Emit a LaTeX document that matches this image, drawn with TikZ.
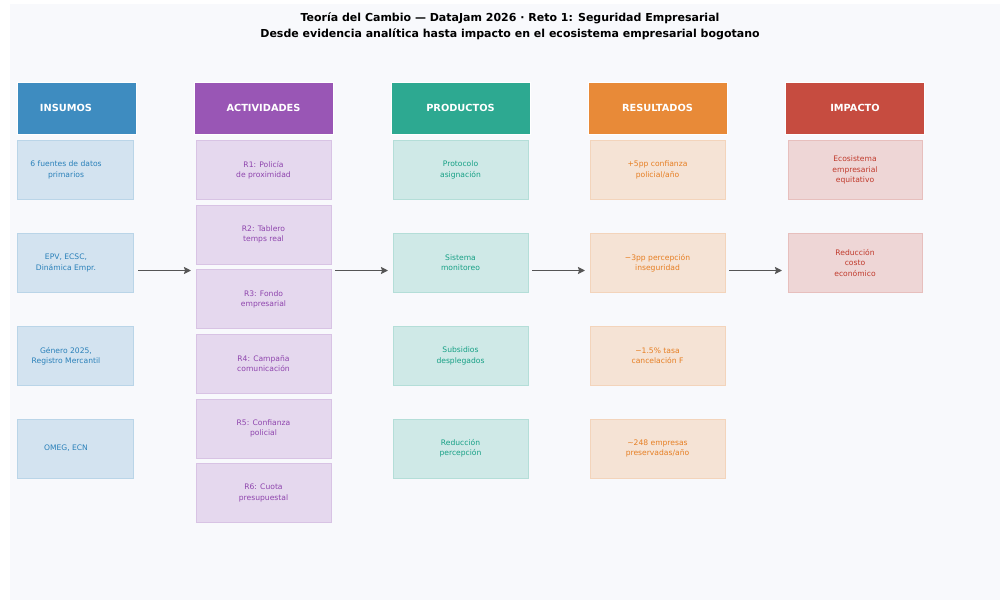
\documentclass[tikz,border=0pt]{standalone}
\usepackage{fontspec}
\setmainfont{DejaVu Sans}
\usetikzlibrary{arrows.meta}
\definecolor{panel}{HTML}{F8F9FC}
\definecolor{cIns}{HTML}{2980B9}
\definecolor{cAct}{HTML}{8E44AD}
\definecolor{cPro}{HTML}{16A085}
\definecolor{cRes}{HTML}{E67E22}
\definecolor{cImp}{HTML}{C0392B}
\definecolor{arrowgray}{HTML}{555555}
\tikzset{
  hdrfont/.style={font=\fontsize{9.8}{11}\selectfont\bfseries},
  hdr/.style={draw=white, line width=0.6pt, fill=#1!90!panel, text=white,
    hdrfont, minimum height=52pt, inner sep=0pt},
  boxfont/.style={font=\fontsize{7.6}{10.3}\selectfont},
  cbox/.style={draw=#1!30!panel, line width=0.7pt, fill=#1!18!panel, text=#1,
    boxfont, align=center, minimum height=59pt, inner sep=0pt},
  flow/.style={draw=arrowgray, line width=1.8pt, -{Stealth[length=7pt,width=7pt,inset=1pt]}},
  ttl/.style={font=\fontsize{11}{13}\selectfont\bfseries, text=black, align=center}
}
\begin{document}
\begin{tikzpicture}[x=1pt,y=-1pt]
\useasboundingbox (0,0) rectangle (1000,600);
\fill[white] (0,0) rectangle (1000,600);
\fill[panel] (10,4) rectangle (1000,600);

\node[ttl] (t1) at (510,18.5) {Teoría del Cambio — DataJam 2026 · Reto 1: Seguridad Empresarial};
\node[ttl] (t2) at (510,34.5) {Desde evidencia analítica hasta impacto en el ecosistema empresarial bogotano};

% headers
\node[hdr=cIns, minimum width=119pt] (hIns) at (76.5,108) {};
\node[hdrfont, text=white] (hInsT) at (66,108) {INSUMOS};
\node[hdr=cAct, minimum width=139pt] (hAct) at (263.5,108) {ACTIVIDADES};
\node[hdr=cPro, minimum width=139pt] (hPro) at (460.5,108) {PRODUCTOS};
\node[hdr=cRes, minimum width=139pt] (hRes) at (657.5,108) {RESULTADOS};
\node[hdr=cImp, minimum width=139pt] (hImp) at (855,108) {IMPACTO};

% insumos
\foreach \i/\y/\t in {1/170/{6 fuentes de datos\\primarios},
                      2/263/{EPV, ECSC,\\Dinámica Empr.},
                      3/356/{Género 2025,\\Registro Mercantil},
                      4/448.5/{OMEG, ECN}}{
  \node[cbox=cIns, minimum width=116pt] (ins\i) at (75.5,\y) {};
  \node[text=cIns, boxfont, align=center] (insT\i) at (66,\y) {\t};
}

% actividades
\foreach \i/\y/\t in {1/170/{R1: Policía\\de proximidad},
                      2/234.5/{R2: Tablero\\temps real},
                      3/299.3/{R3: Fondo\\empresarial},
                      4/363.8/{R4: Campaña\\comunicación},
                      5/428.5/{R5: Confianza\\policial},
                      6/493/{R6: Cuota\\presupuestal}}{
  \node[cbox=cAct, minimum width=135pt] (act\i) at (263.5,\y) {\t};
}

% productos
\foreach \i/\y/\t in {1/170/{Protocolo\\asignación},
                      2/263/{Sistema\\monitoreo},
                      3/356/{Subsidios\\desplegados},
                      4/448.5/{Reducción\\percepción}}{
  \node[cbox=cPro, minimum width=135pt] (pro\i) at (460.5,\y) {\t};
}

% resultados
\foreach \i/\y/\t in {1/170/{+5pp confianza\\policial/año},
                      2/263/{−3pp percepción\\inseguridad},
                      3/356/{−1.5\% tasa\\cancelación F},
                      4/448.5/{\textasciitilde248 empresas\\preservadas/año}}{
  \node[cbox=cRes, minimum width=135pt] (res\i) at (657.5,\y) {\t};
}

% impacto
\node[cbox=cImp, minimum width=134pt] (imp1) at (855,170) {Ecosistema\\empresarial\\equitativo};
\node[cbox=cImp, minimum width=134pt] (imp2) at (855,263) {Reducción\\costo\\económico};

% arrows
\coordinate (a1s) at (138,270.5); \coordinate (a1e) at (191,270.5);
\coordinate (a2s) at (335,270.5); \coordinate (a2e) at (388,270.5);
\coordinate (a3s) at (532,270.5); \coordinate (a3e) at (585,270.5);
\coordinate (a4s) at (729,270.5); \coordinate (a4e) at (782,270.5);
\draw[flow] (a1s) -- (a1e);
\draw[flow] (a2s) -- (a2e);
\draw[flow] (a3s) -- (a3e);
\draw[flow] (a4s) -- (a4e);
\end{tikzpicture}
\end{document}
